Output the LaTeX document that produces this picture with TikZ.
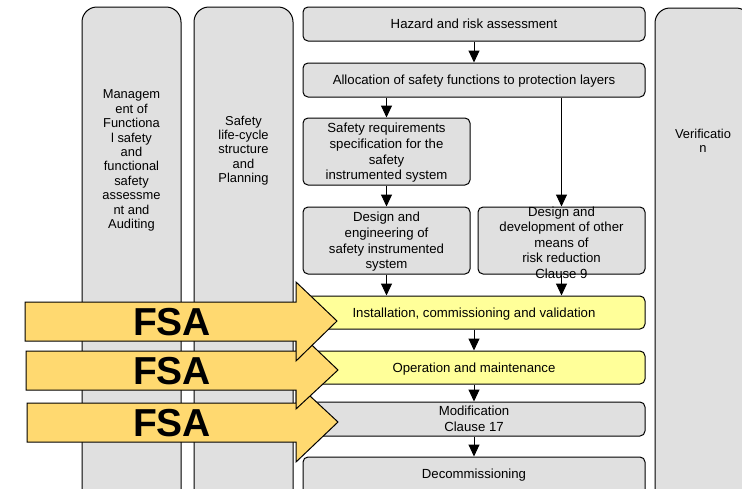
\documentclass[tikz,border=0pt]{standalone}
\usepackage{fontspec}
\setmainfont{Liberation Sans}
\usetikzlibrary{arrows.meta}
\definecolor{boxgray}{HTML}{E0E0E0}
\definecolor{boxyellow}{HTML}{FFFF99}
\definecolor{fsafill}{HTML}{FFD970}
\tikzset{
  stepbox/.style={draw=black, line width=1pt, fill=boxgray, rounded corners=5pt,
    align=center, inner sep=0pt, text depth=0pt, font=\fontsize{13.2}{15.6}\selectfont},
  hotbox/.style={stepbox, fill=boxyellow},
  lane/.style={draw=black, line width=1pt, fill=boxgray, rounded corners=15pt},
  lanetext/.style={align=center, inner sep=0pt, font=\fontsize{12.9}{14.4}\selectfont},
  flow/.style={draw=black, line width=1pt, -{Triangle[width=11pt,length=12pt]}},
  fsaarrow/.style={draw=black, line width=1pt, fill=fsafill, line join=miter},
  fsatext/.style={font=\fontsize{39}{39}\selectfont\bfseries, inner sep=0pt}
}
\begin{document}
\begin{tikzpicture}[x=1pt, y=-1pt]
\clip (0,0) rectangle (742,488);
\fill[white] (0,0) rectangle (742,488);

% side lanes
\path[lane] (82,7) rectangle (181,620);
\path[lane] (194,7) rectangle (293,620);
\path[lane] (655,8) rectangle (751,620);
\node[lanetext] (mgmt) at (131.5,160.5) {Managem\\ent of\\Functiona\\l safety\\and\\functional\\safety\\assessme\\nt and\\Auditing};
\node[lanetext] (plan) at (243.5,150.5) {Safety\\life-cycle\\structure\\and\\Planning};
\node[lanetext] (verif) at (703,141) {Verificatio\\n};

% life-cycle phases
\node[stepbox, minimum width=342pt, minimum height=34pt] (haz) at (474,24) {Hazard and risk assessment};
\node[stepbox, minimum width=342pt, minimum height=34pt] (alloc) at (474,80) {Allocation of safety functions to protection layers};
\node[stepbox, minimum width=167pt, minimum height=67pt] (srs) at (386.5,151.5) {Safety requirements\\specification for the\\safety\\instrumented system};
\node[stepbox, minimum width=167pt, minimum height=67pt] (dse) at (386.5,240.5) {Design and\\engineering of\\safety instrumented\\system};
\node[stepbox, minimum width=167pt, minimum height=67pt] (other) at (561.5,240.5) {};
\node[inner sep=0pt, align=center, font=\fontsize{13.2}{15.6}\selectfont] (othertext) at (561.5,242.5) {Design and\\development of other\\means of\\risk reduction\\Clause 9};
\node[hotbox, minimum width=342pt, minimum height=33pt] (inst) at (474,312.5) {Installation, commissioning and validation};
\node[hotbox, minimum width=342pt, minimum height=33pt] (oper) at (474,367.5) {Operation and maintenance};
\node[stepbox, minimum width=342pt, minimum height=34pt] (modif) at (474,419) {Modification\\Clause 17};
\node[stepbox, minimum width=342pt, minimum height=40pt] (decom) at (474,477) {};
\node[inner sep=0pt, font=\fontsize{13.2}{15.6}\selectfont] (decomtext) at (474,475.5) {Decommissioning};

% flow between phases
\draw[flow] (haz) -- (alloc);
\draw[flow] (alloc.south -| srs.north) -- (srs);
\draw[flow] (alloc.south -| other.north) -- (other);
\draw[flow] (srs) -- (dse);
\draw[flow] (dse) -- (dse.south |- inst.north);
\draw[flow] (other) -- (other.south |- inst.north);
\draw[flow] (inst) -- (oper);
\draw[flow] (oper) -- (modif);
\draw[flow] (modif) -- (decom);

% functional safety assessment arrows (lowest first)
\draw[fsaarrow] (27,403) -- (296,403) -- (296,383) -- (338,422) -- (296,462) -- (296,442) -- (27,442) -- cycle;
\node[fsatext] (fsa3) at (172,423) {FSA};
\draw[fsaarrow] (26,351) -- (296,351) -- (296,330) -- (338,370) -- (296,409) -- (296,390) -- (26,390) -- cycle;
\node[fsatext] (fsa2) at (172,371) {FSA};
\draw[fsaarrow] (25,302) -- (296,302) -- (296,282) -- (337,321) -- (296,361) -- (296,341) -- (25,341) -- cycle;
\node[fsatext] (fsa1) at (172,322) {FSA};
\end{tikzpicture}
\end{document}
